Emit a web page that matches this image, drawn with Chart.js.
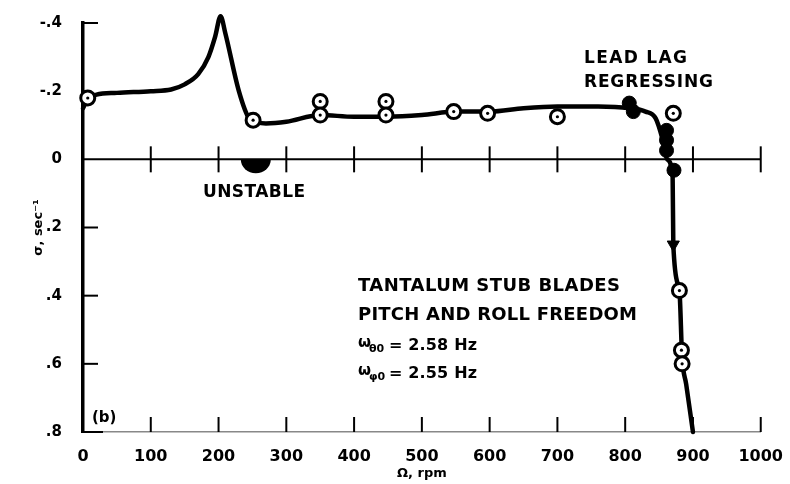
<!DOCTYPE html>
<html><head><meta charset="utf-8">
<script src="https://cdn.jsdelivr.net/npm/chart.js@4/dist/chart.umd.min.js"></script>
<style>html,body{margin:0;padding:0;background:#fff;}canvas{display:block;}</style>
</head><body>
<canvas id="c" width="790" height="484"></canvas>
<script>
// ---- data ----
const curveRpm   = [0, 8, 20, 50, 100, 130, 150, 170, 185, 195, 203, 210, 230, 245, 255, 270, 300, 350, 400, 450, 500, 550, 600, 650, 700, 760, 806, 830, 845, 855, 862, 870, 871, 880, 884, 890, 900];
const curveSigma = [-0.15, -0.18, -0.19, -0.195, -0.2, -0.205, -0.22, -0.25, -0.3, -0.36, -0.42, -0.37, -0.2, -0.12, -0.11, -0.105, -0.11, -0.13, -0.125, -0.125, -0.13, -0.14, -0.14, -0.15, -0.155, -0.155, -0.15, -0.14, -0.12, -0.06, 0, 0.05, 0.25, 0.385, 0.58, 0.66, 0.8];
const openRpm    = [7, 251, 350, 350, 447, 447, 547, 597, 700, 871, 880, 883, 884];
const openSigma  = [-0.18, -0.115, -0.17, -0.13, -0.17, -0.13, -0.14, -0.135, -0.125, -0.135, 0.385, 0.56, 0.6];
const solidRpm   = [806, 812, 861, 861, 861, 872];
const solidSigma = [-0.165, -0.14, -0.085, -0.056, -0.026, 0.032];
const arrowRpm   = [871];
const arrowSigma = [0.25];
const unstableRpm = 255;
const xTickLabels = ['0','100','200','300','400','500','600','700','800','900','1000'];
const yTickLabels = ['-.4','-.2','0','.2','.4','.6','.8'];
const notes = {
  lead: ['LEAD LAG', 'REGRESSING'],
  unstable: 'UNSTABLE',
  blades: ['TANTALUM STUB BLADES', 'PITCH AND ROLL FREEDOM'],
  freqs: [['\u03C9', '\u03B80', '= 2.58 Hz'], ['\u03C9', '\u03C60', '= 2.55 Hz']],
  panel: '(b)'
};

const pts = (xs, ys) => xs.map((x, i) => ({x, y: ys[i]}));
const FONT = '"DejaVu Sans", "Liberation Sans", sans-serif';

function fitText(ctx, text, x, y, width) {
  ctx.letterSpacing = '0px';
  const w = ctx.measureText(text).width;
  const n = Math.max(1, text.length - 1);
  ctx.letterSpacing = ((width - w) / n) + 'px';
  ctx.fillText(text, x, y);
  ctx.letterSpacing = '0px';
}

const deco = {
  id: 'deco',
  beforeDatasetsDraw(chart) {
    const {ctx, scales: {x, y}, chartArea: a} = chart;
    ctx.save();
    ctx.strokeStyle = '#000';
    const y0 = y.getPixelForValue(0);
    ctx.lineWidth = 2;
    ctx.beginPath(); ctx.moveTo(a.left, y0); ctx.lineTo(a.right, y0); ctx.stroke();
    for (let v = 100; v <= 1000; v += 100) {
      const px = x.getPixelForValue(v);
      ctx.beginPath(); ctx.moveTo(px, y0 - 13); ctx.lineTo(px, y0 + 13); ctx.stroke();
      ctx.beginPath(); ctx.moveTo(px, a.bottom); ctx.lineTo(px, a.bottom - 15); ctx.stroke();
    }
    [-0.4, 0.2, 0.4, 0.6].forEach(v => {
      const py = y.getPixelForValue(v);
      ctx.beginPath(); ctx.moveTo(a.left, py); ctx.lineTo(a.left + 15, py); ctx.stroke();
    });
    ctx.beginPath(); ctx.moveTo(a.left, a.bottom); ctx.lineTo(a.left + 20, a.bottom); ctx.stroke();
    const ux = x.getPixelForValue(unstableRpm);
    ctx.fillStyle = '#000';
    ctx.beginPath();
    ctx.ellipse(ux, y0, 15, 14, 0, 0, Math.PI);
    ctx.fill();
    ctx.restore();
  },
  afterDraw(chart) {
    const {ctx} = chart;
    ctx.save();
    ctx.fillStyle = '#000';
    ctx.textBaseline = 'alphabetic';
    ctx.font = 'bold 17px ' + FONT;
    fitText(ctx, notes.lead[0], 584, 63, 103);
    fitText(ctx, notes.lead[1], 584, 87, 129);
    fitText(ctx, notes.unstable, 203, 197, 102);
    ctx.font = 'bold 18px ' + FONT;
    fitText(ctx, notes.blades[0], 358, 291, 262);
    fitText(ctx, notes.blades[1], 358, 320, 279);
    notes.freqs.forEach((f, i) => {
      const by = 350 + i * 28;
      ctx.font = 'bold 15px ' + FONT;
      ctx.fillText(f[0], 358, by - 3);
      ctx.font = 'bold 11px ' + FONT;
      ctx.fillText(f[1], 369, by + 2);
      ctx.font = 'bold 16px ' + FONT;
      fitText(ctx, f[2], 389, by, 88);
    });
    ctx.font = 'bold 15px ' + FONT;
    ctx.fillText(notes.panel, 92, 422);
    ctx.restore();
  }
};

new Chart(document.getElementById('c'), {
  type: 'line',
  data: {
    datasets: [
      { data: pts(openRpm, openSigma), showLine: false, pointStyle: 'circle', pointRadius: 1.6,
        pointBackgroundColor: '#000', pointBorderWidth: 0, order: 0, clip: false },
      { data: pts(openRpm, openSigma), showLine: false, pointStyle: 'circle', pointRadius: 7,
        pointBackgroundColor: '#fff', pointBorderColor: '#000', pointBorderWidth: 3, order: 1, clip: false },
      { data: pts(solidRpm, solidSigma), showLine: false, pointStyle: 'circle', pointRadius: 7,
        pointBackgroundColor: '#000', pointBorderColor: '#000', pointBorderWidth: 1, order: 2 },
      { data: pts(arrowRpm, arrowSigma), showLine: false, pointStyle: 'triangle', rotation: 180,
        pointRadius: 7, pointBackgroundColor: '#000', pointBorderColor: '#000', order: 2 },
      { data: pts(curveRpm, curveSigma), borderColor: '#000', borderWidth: 4.5, pointRadius: 0,
        cubicInterpolationMode: 'monotone', fill: false, order: 3, clip: false,
        borderJoinStyle: 'round', borderCapStyle: 'round' }
    ]
  },
  options: {
    responsive: false,
    animation: false,
    events: [],
    layout: { padding: { left: 0, right: 25, top: 23, bottom: 0 } },
    plugins: { legend: { display: false }, tooltip: { enabled: false } },
    scales: {
      x: {
        type: 'linear', min: 0, max: 1000,
        afterFit: s => { s.height = 52; },
        afterBuildTicks: s => { s.ticks = xTickLabels.map(t => ({value: Number(t)})); },
        ticks: { callback: (v, i) => xTickLabels[i], color: '#000', padding: 7,
                 font: { family: FONT, size: 16, weight: 'bold' }, maxRotation: 0, autoSkip: false },
        grid: { display: false },
        border: { display: true, color: '#888', width: 1.5, dash: [12, 16] },
        title: { display: true, text: '\u03A9, rpm', color: '#000', padding: { top: 0, bottom: 3 },
                 font: { family: FONT, size: 13, weight: 'bold' } }
      },
      y: {
        type: 'linear', min: -0.4, max: 0.8, reverse: true,
        afterFit: s => { s.width = 83; },
        afterBuildTicks: s => { s.ticks = yTickLabels.map((t, i) => ({value: -0.4 + 0.2 * i})); },
        ticks: { callback: (v, i) => yTickLabels[i], color: '#000', padding: 13,
                 font: { family: FONT, size: 15, weight: 'bold' }, autoSkip: false },
        grid: { display: false },
        border: { display: true, color: '#000', width: 3.5 },
        title: { display: true, text: '\u03C3, sec\u207B\u00B9', color: '#000', padding: { top: 31, bottom: 0 },
                 font: { family: FONT, size: 13, weight: 'bold' } }
      }
    }
  },
  plugins: [deco]
});
</script>
</body></html>
